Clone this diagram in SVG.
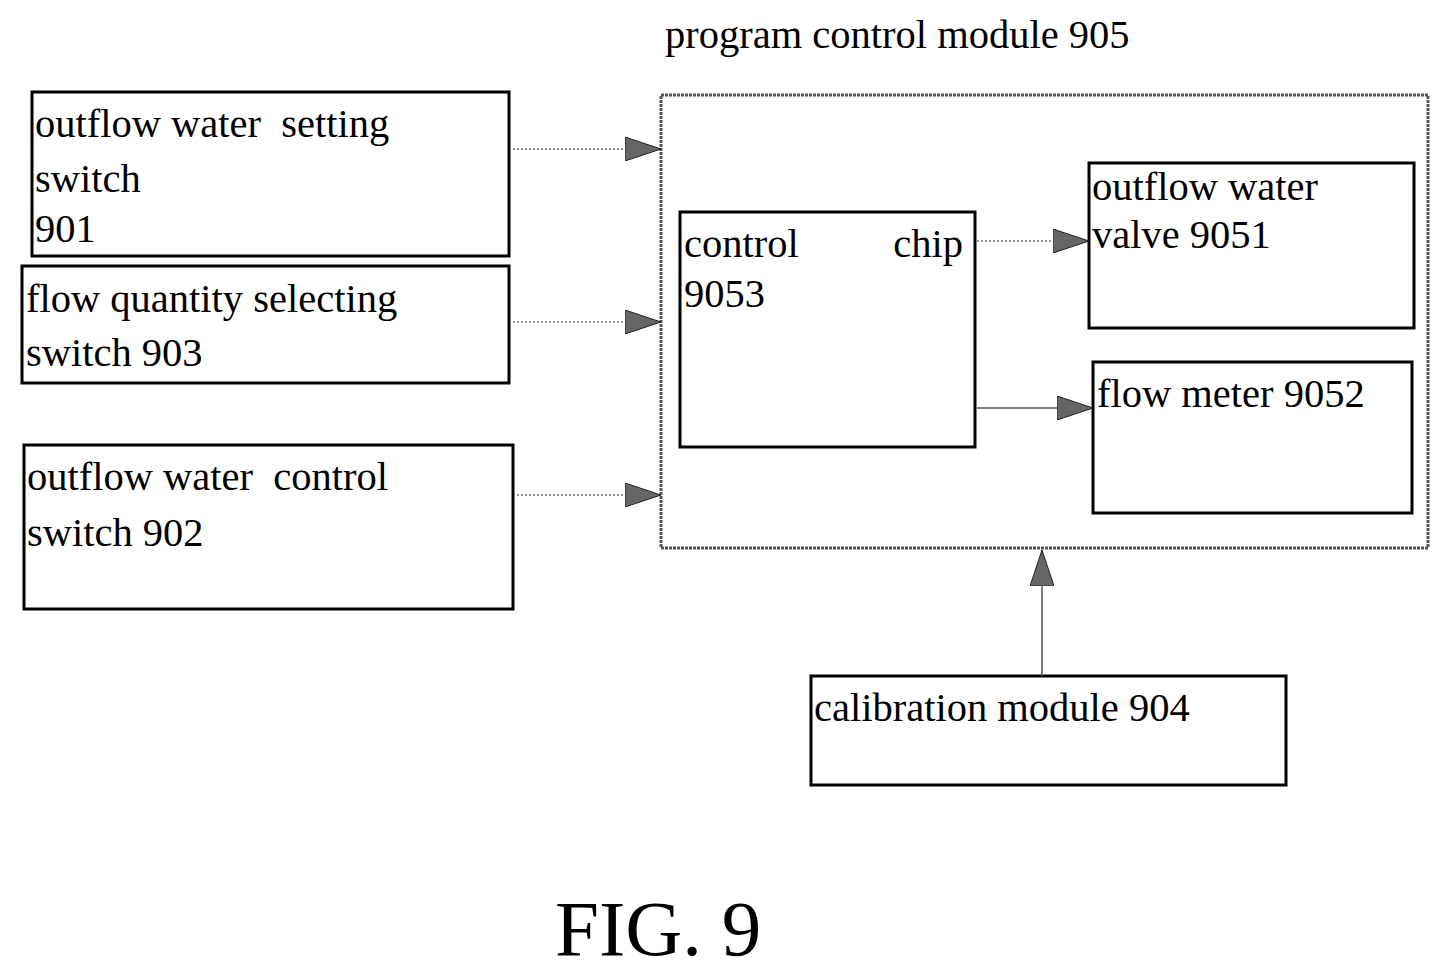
<svg xmlns="http://www.w3.org/2000/svg" width="1451" height="976" viewBox="0 0 1451 976">
<style>
.b{fill:none;stroke:#000;stroke-width:3}
.t{font-family:"Liberation Serif",serif;font-size:40.5px;fill:#000;white-space:pre}
.c{stroke:#555;stroke-width:1.5;fill:none}
.d{stroke:#777;stroke-width:1.5;stroke-dasharray:2 2;fill:none}
</style>
<defs>
<marker id="a" markerWidth="36" markerHeight="24" refX="36" refY="12" orient="auto" markerUnits="userSpaceOnUse">
<path d="M0,0 L36,12 L0,24 Z" fill="#666" stroke="#222" stroke-width="1"/>
</marker>
</defs>
<rect width="1451" height="976" fill="#fff"/>
<text class="t" x="665" y="48">program control module 905</text>
<g id="n905"><rect x="661" y="95" width="767" height="453" fill="none" stroke="#555" stroke-width="3" stroke-dasharray="3 1"/></g>
<g id="n901"><rect class="b" x="32" y="92" width="477" height="164"/>
<text class="t" x="35" y="137" xml:space="preserve">outflow water  setting</text><text class="t" x="35" y="192">switch</text><text class="t" x="35" y="242">901</text></g>
<g id="n903"><rect class="b" x="22" y="266" width="487" height="117"/>
<text class="t" x="26" y="312">flow quantity selecting</text><text class="t" x="26" y="366">switch 903</text></g>
<g id="n902"><rect class="b" x="24" y="445" width="489" height="164"/>
<text class="t" x="27" y="490" xml:space="preserve">outflow water  control</text><text class="t" x="27" y="546">switch 902</text></g>
<g id="n9053"><rect class="b" x="680" y="212" width="295" height="235"/>
<text class="t" x="684" y="257">control</text><text class="t" x="963" y="257" text-anchor="end">chip</text><text class="t" x="684" y="307">9053</text></g>
<g id="n9051"><rect class="b" x="1089" y="163" width="325" height="165"/>
<text class="t" x="1092" y="200">outflow water</text><text class="t" x="1092" y="248">valve 9051</text></g>
<g id="n9052"><rect class="b" x="1093" y="362" width="319" height="151"/>
<text class="t" x="1097" y="407">flow meter 9052</text></g>
<g id="n904"><rect class="b" x="811" y="676" width="475" height="109"/>
<text class="t" x="814" y="721">calibration module 904</text></g>
<g id="connectors">
<line class="d" x1="513" y1="149" x2="661" y2="149" marker-end="url(#a)"/>
<line class="d" x1="513" y1="322" x2="661" y2="322" marker-end="url(#a)"/>
<line class="d" x1="517" y1="495" x2="661" y2="495" marker-end="url(#a)"/>
<line class="d" x1="977" y1="241" x2="1089" y2="241" marker-end="url(#a)"/>
<line class="c" x1="977" y1="408" x2="1093" y2="408" marker-end="url(#a)"/>
<line class="c" x1="1042" y1="676" x2="1042" y2="550" marker-end="url(#a)"/>
</g>
<text x="555" y="955" style="font-family:'Liberation Serif',serif;font-size:79px">FIG. 9</text>
</svg>
